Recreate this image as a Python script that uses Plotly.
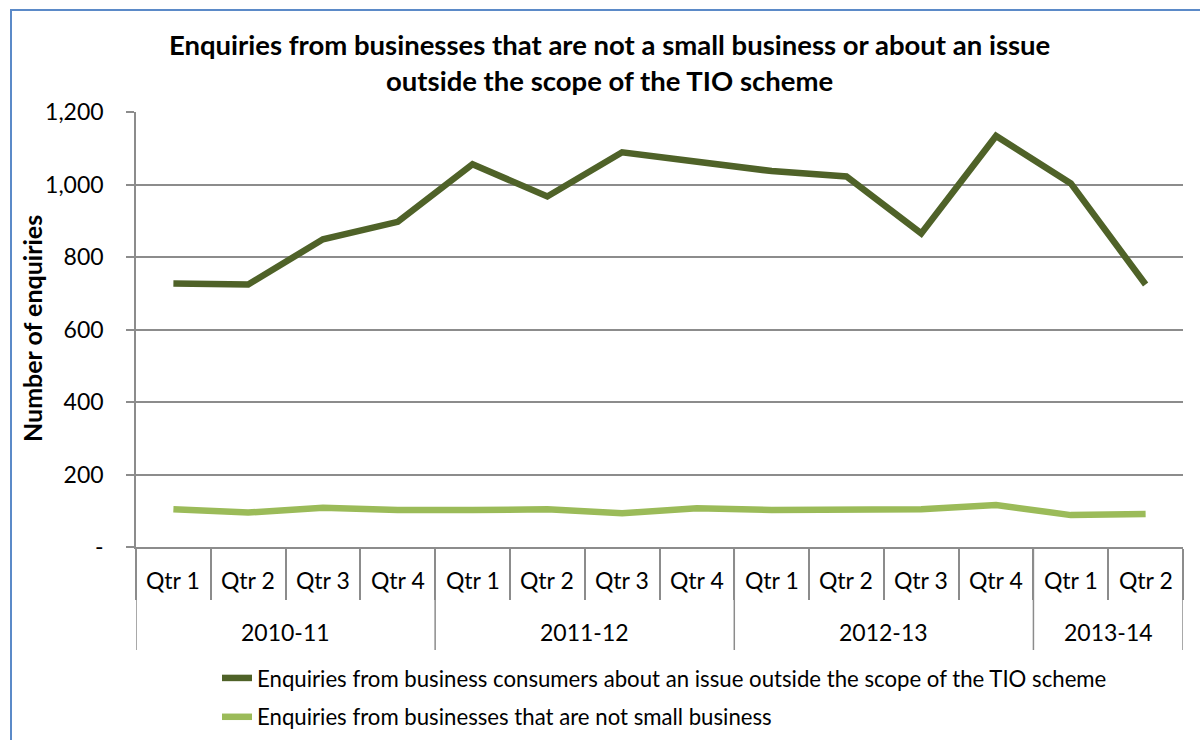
import plotly.graph_objects as go

years = ["2010-11", "2011-12", "2012-13", "2013-14"]
quarters_per_year = [4, 4, 4, 2]
quarters = ["Qtr 1", "Qtr 2", "Qtr 3", "Qtr 4"] * 3 + ["Qtr 1", "Qtr 2"]

outside_scope = [727, 724, 849, 897, 1056, 967, 1089, 1063, 1037, 1022, 865, 1134, 1003, 724]
not_small = [104, 95, 108, 102, 102, 104, 93, 107, 102, 103, 104, 116, 88, 91]

name_outside = "Enquiries from business consumers about an issue outside the scope of the TIO scheme"
name_not_small = "Enquiries from businesses that are not small business"

y_ticks = [0, 200, 400, 600, 800, 1000, 1200]
y_ticktext = ["-", "200", "400", "600", "800", "1,000", "1,200"]
y_title = "Number of enquiries"

FONT = "Lato, 'Open Sans', sans-serif"
GRID = "#8c8c8c"

# plot area in pixels
L, R, T, B = 136, 1183, 112, 547
H = B - T

def py(pix):  # pixel y -> paper y
    return (B - pix) / H

def px(pix):  # pixel x -> paper x
    return (pix - L) / (R - L)

xs = list(range(len(quarters)))

fig = go.Figure()
fig.add_trace(go.Scatter(
    x=xs, y=outside_scope, name=name_outside, mode="lines", legendgroup="a",
    line=dict(color="#4F6228", width=6.5)))
fig.add_trace(go.Scatter(
    x=xs, y=not_small, name=name_not_small, mode="lines", legendgroup="b",
    line=dict(color="#9BBB59", width=6.5)))

annotations = []
shapes = []
# quarter labels
for i, q in enumerate(quarters):
    annotations.append(dict(x=i, y=py(580), xref="x", yref="paper", text=q, showarrow=False,
                            xanchor="center", yanchor="middle",
                            font=dict(family=FONT, size=23, color="black")))
# year labels and group dividers
start = 0
bounds = [-0.5]
for yr, n in zip(years, quarters_per_year):
    center = start + (n - 1) / 2
    annotations.append(dict(x=center, y=py(632), xref="x", yref="paper", text=yr, showarrow=False,
                            xanchor="center", yanchor="middle",
                            font=dict(family=FONT, size=23, color="black")))
    start += n
    bounds.append(start - 0.5)
for bx in bounds:
    shapes.append(dict(type="line", xref="x", yref="paper", x0=bx, x1=bx,
                       y0=py(547), y1=py(650), line=dict(color=GRID, width=1.5)))

# y-axis title
annotations.append(dict(x=px(32), y=py(329), xref="paper", yref="paper", text="<b>" + y_title + "</b>",
                        textangle=-90, showarrow=False, xanchor="center", yanchor="middle",
                        font=dict(family=FONT, size=25, color="black")))

# outer chart border
shapes.append(dict(type="rect", xref="paper", yref="paper",
                   x0=px(11), x1=px(1205), y0=py(750), y1=py(10),
                   line=dict(color="#5B8AC8", width=2), fillcolor="rgba(0,0,0,0)", layer="below"))

fig.update_layout(
    width=1200, height=740,
    margin=dict(l=L, r=1200 - R, t=T, b=740 - B, autoexpand=False),
    paper_bgcolor="white", plot_bgcolor="white",
    font=dict(family=FONT, size=22, color="black"),
    title=dict(
        text="<b>Enquiries from businesses that are not a small business or about an issue<br>outside the scope of the TIO scheme</b>",
        x=0.508, xref="container", xanchor="center",
        y=1 - 55 / 740, yref="container", yanchor="top",
        font=dict(family=FONT, size=27.5, color="black")),
    showlegend=True,
    legend=dict(x=px(217), y=py(657), xanchor="left", yanchor="top",
                orientation="v", font=dict(family=FONT, size=22.2),
                tracegroupgap=7, bgcolor="rgba(0,0,0,0)"),
    xaxis=dict(
        range=[-0.5, len(quarters) - 0.5], showgrid=False, zeroline=False,
        showline=True, linecolor=GRID, linewidth=1.5,
        tickmode="array", tickvals=[i - 0.5 for i in range(len(quarters) + 1)],
        ticktext=[""] * (len(quarters) + 1),
        ticks="outside", ticklen=51, tickcolor=GRID, tickwidth=1.5),
    yaxis=dict(
        range=[0, 1200], tickvals=y_ticks, ticktext=y_ticktext,
        showgrid=True, gridcolor=GRID, gridwidth=1.5,
        showline=True, linecolor=GRID, linewidth=1.5,
        ticks="outside", ticklen=8, tickcolor=GRID, tickwidth=1.5,
        ticklabelstandoff=18,
        tickfont=dict(family=FONT, size=23, color="black"),
        zeroline=False),
    annotations=annotations,
    shapes=shapes,
)

fig.write_html("out.html", config={"displayModeBar": False},
               post_script="document.body.style.margin='0px';")
